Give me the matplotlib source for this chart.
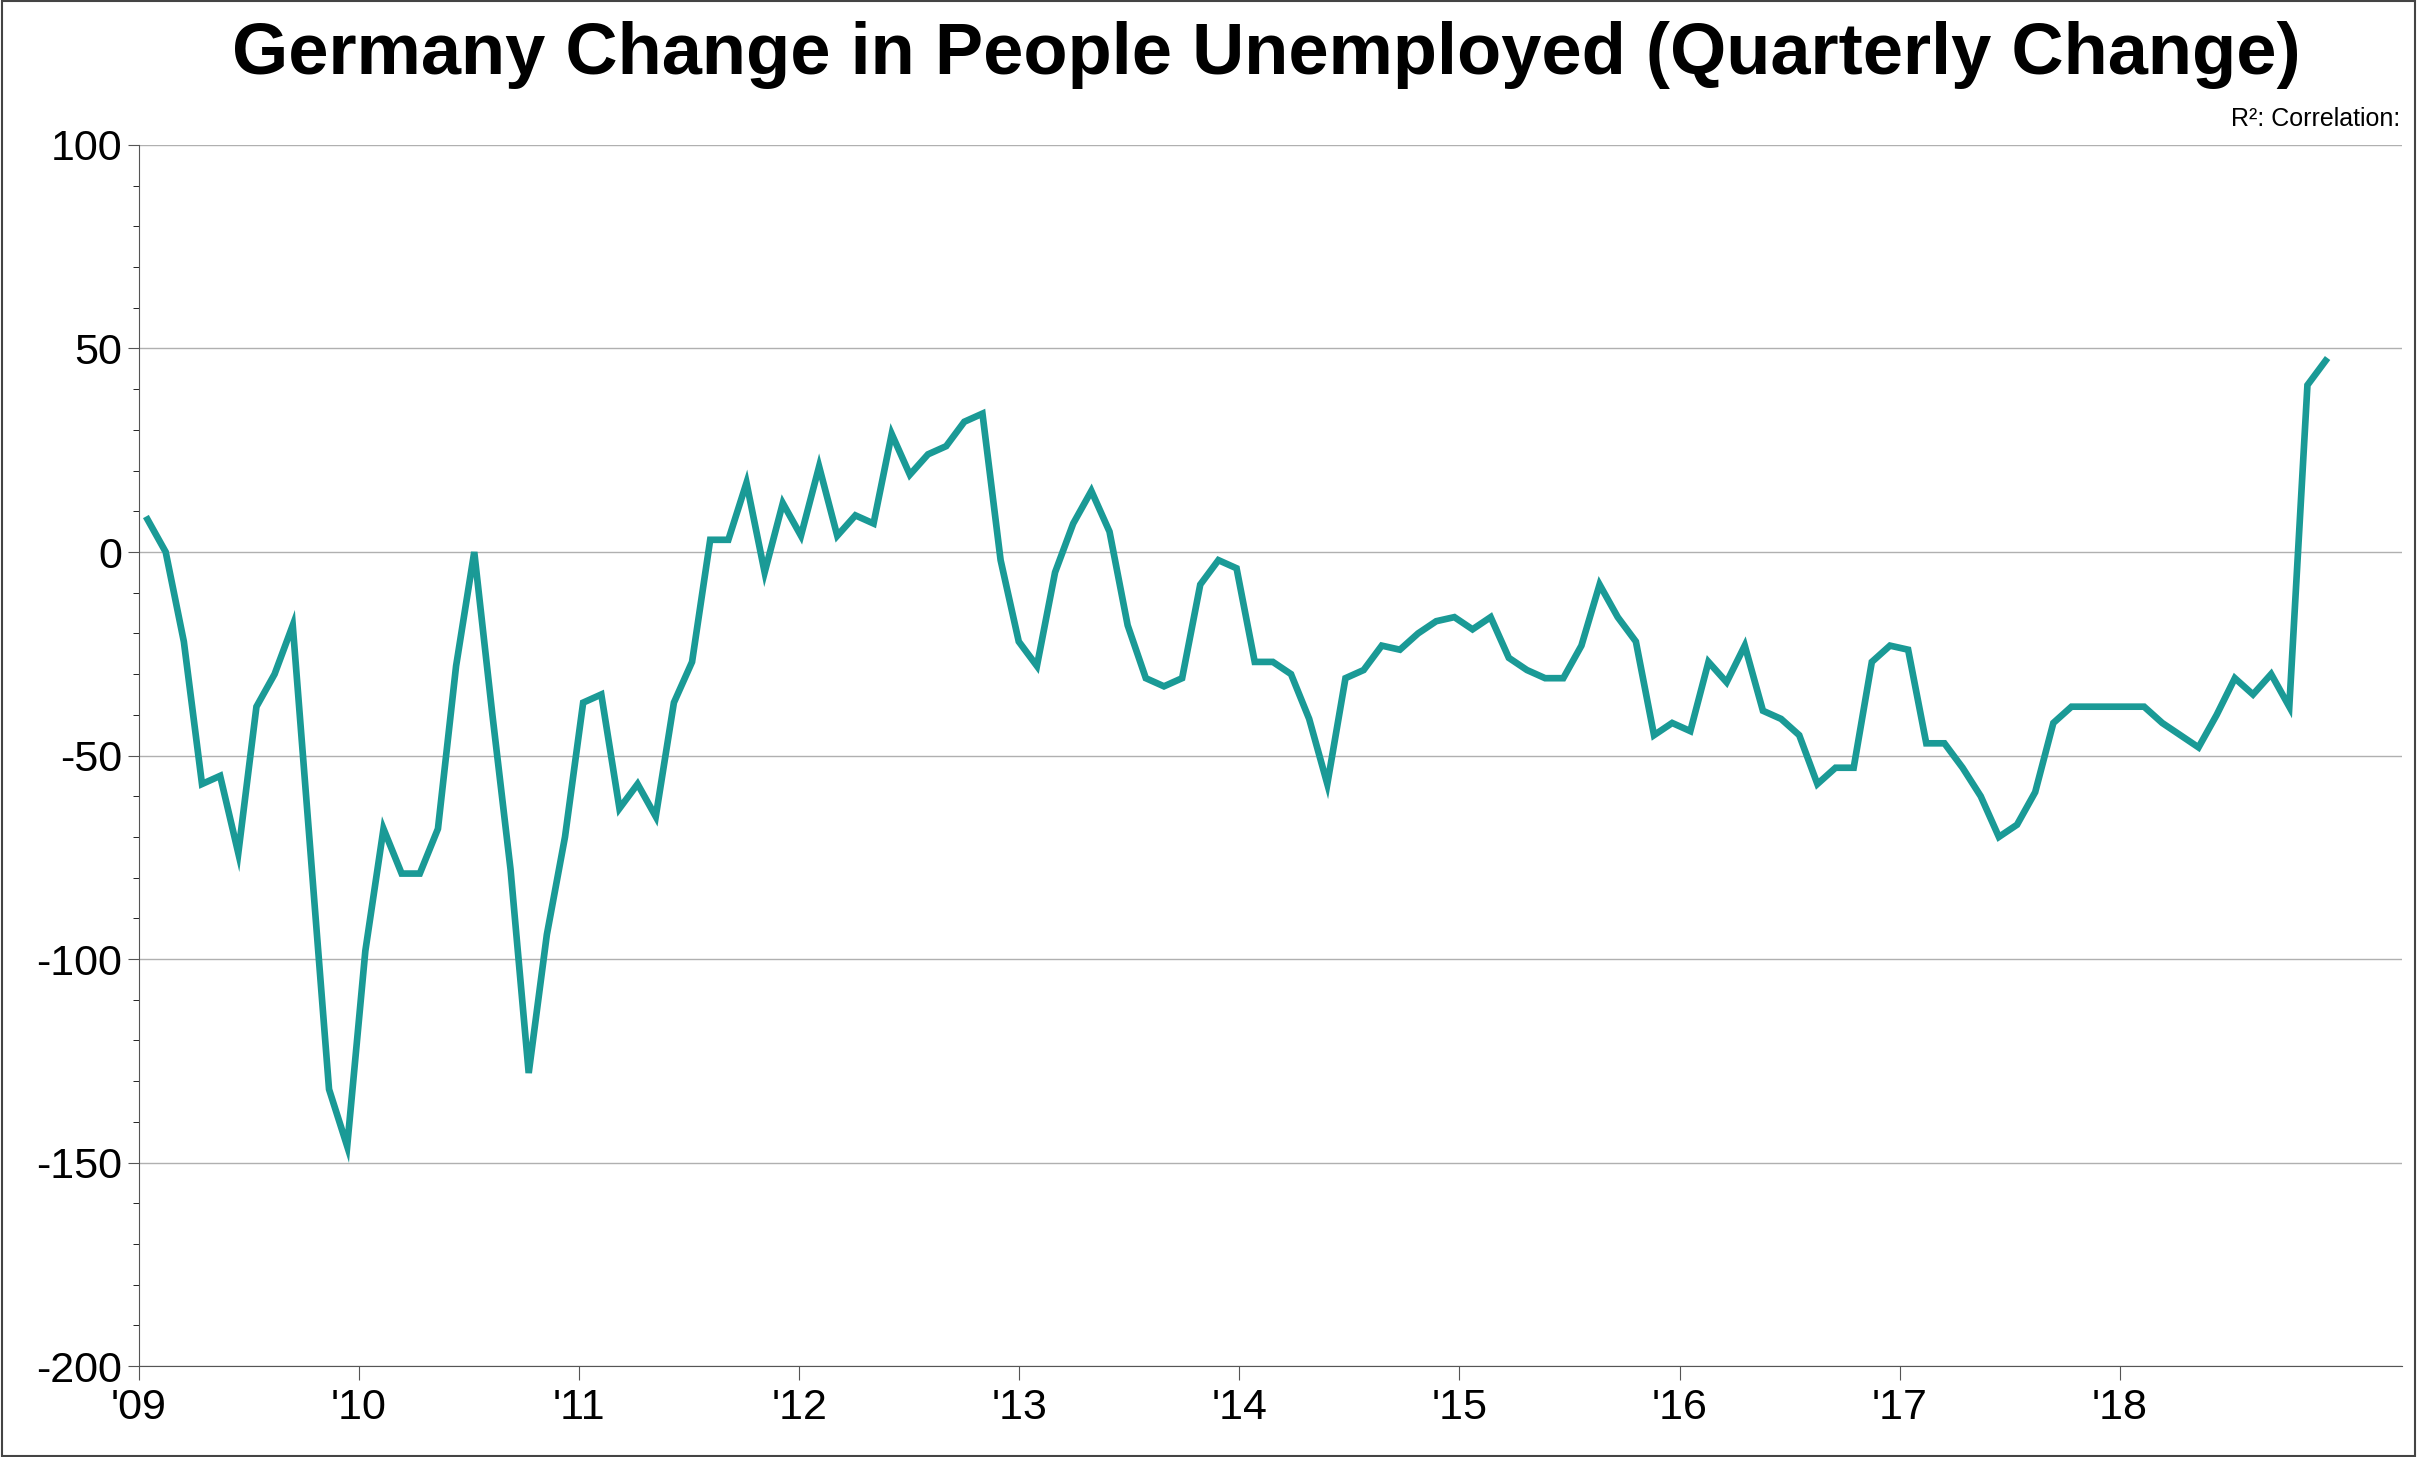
import numpy as np
import matplotlib.pyplot as plt
from matplotlib.ticker import MultipleLocator

plt.rcParams['axes.unicode_minus'] = False

# --- Monthly data, Jan 2009 .. Dec 2018 (thousands) ---
values = [8, 0, -22, -57, -55, -74, -38, -30, -18, -75, -132, -146,
          -98, -68, -79, -79, -68, -28, 0, -40, -78, -128, -94, -70,
          -37, -35, -63, -57, -65, -37, -27, 3, 3, 17, -5, 12,
          4, 21, 4, 9, 7, 29, 19, 24, 26, 32, 34, -2,
          -22, -28, -5, 7, 15, 5, -18, -31, -33, -31, -8, -2,
          -4, -27, -27, -30, -41, -57, -31, -29, -23, -24, -20, -17,
          -16, -19, -16, -26, -29, -31, -31, -23, -8, -16, -22, -45,
          -42, -44, -27, -32, -23, -39, -41, -45, -57, -53, -53, -27,
          -23, -24, -47, -47, -53, -60, -70, -67, -59, -42, -38, -38,
          -38, -38, -38, -42, -45, -48, -40, -31, -35, -30, -38, 41, 47]
year_labels = ["'09", "'10", "'11", "'12", "'13", "'14", "'15", "'16", "'17", "'18"]
years = list(range(2009, 2019))

x = np.linspace(2009.04, 2018.935, len(values))

fig = plt.figure(figsize=(24.17, 14.57), dpi=100)
ax = fig.add_axes([0.0574, 0.0624, 0.9362, 0.8381])
ax.plot(x, values, color='#1a9a96', linewidth=4.8, solid_joinstyle='miter')

ax.set_xlim(2009, 2019.28)
ax.set_ylim(-200, 100)
ax.yaxis.set_major_locator(MultipleLocator(50))
ax.yaxis.set_minor_locator(MultipleLocator(10))
ax.set_xticks(years)
ax.set_xticklabels(year_labels)
ax.grid(axis='y', color='#b0b0b0', linewidth=1)
ax.set_axisbelow(True)

for s in ['top', 'right']:
    ax.spines[s].set_visible(False)
ax.spines['left'].set_color('#555555')
ax.spines['bottom'].set_color('#555555')
ax.tick_params(axis='both', labelsize=31, direction='out', color='#555555')
ax.tick_params(axis='y', which='major', length=8, pad=4)
ax.tick_params(axis='y', which='minor', length=4)
ax.tick_params(axis='x', length=10, pad=6)
for lbl in ax.get_xticklabels() + ax.get_yticklabels():
    lbl.set_fontfamily('Liberation Sans')

fig.text(0.524, 0.962, 'Germany Change in People Unemployed (Quarterly Change)',
         ha='center', va='center', fontsize=52, fontweight='bold', family='Liberation Sans')
fig.text(0.993, 0.918, 'R²: Correlation:', ha='right', va='center', fontsize=18,
         family='Liberation Sans')

fig.patches.append(plt.Rectangle((0.001, 0.001), 0.998, 0.998, transform=fig.transFigure,
                                 fill=False, edgecolor='#444444', linewidth=1.5))

fig.savefig('out.png', dpi=100)
